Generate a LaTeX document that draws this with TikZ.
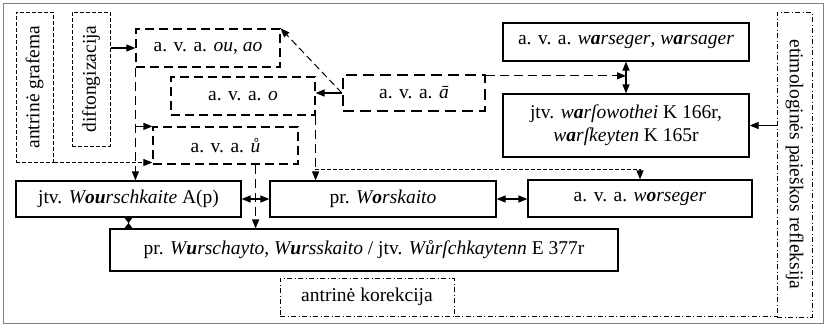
\documentclass[tikz,border=0pt]{standalone}
\usepackage{fontspec}
\setmainfont{Liberation Serif}
\usepackage{graphicx}
\usetikzlibrary{arrows.meta}
\tikzset{
  box/.style={draw, line width=1.2pt, inner sep=0pt, align=center, font=\fontsize{19.5}{23}\selectfont},
  ldash/.style={line width=1.2pt, dash pattern=on 9pt off 5pt},
  tdash/.style={line width=2.3pt, dash pattern=on 11pt off 6pt},
  sdash/.style={line width=1pt, dash pattern=on 4pt off 2pt},
  ddash/.style={line width=1pt, dash pattern=on 5pt off 2.5pt on 1pt off 2.5pt},
  arr/.style={-{Triangle[length=9pt,width=7pt]}},
  darr/.style={{Triangle[length=9pt,width=7pt]}-{Triangle[length=9pt,width=7pt]}},
  sarr/.style={{Triangle[reversed,length=5.5pt,width=8pt]}-{Triangle[reversed,length=5.5pt,width=8pt]}},
  conn/.style={line width=1.2pt},
}
\begin{document}
\begin{tikzpicture}[x=1pt,y=-1pt]
\useasboundingbox (0,0) rectangle (826,327);
\draw[gray, line width=1pt] (3,3) rectangle (823,323);

\node[box, sdash, minimum width=37pt, minimum height=150pt] (graf) at (34.5,87) {\rotatebox{90}{antrinė grafema}};
\node[box, sdash, minimum width=38pt, minimum height=134pt] (dift) at (91,79) {\rotatebox{90}{diftongizacija}};
\node[box, ldash, minimum width=144pt, minimum height=38pt] (ou) at (208,48) {a. v. a. \textit{ou}, \textit{ao}};
\node[box, ldash, minimum width=144pt, minimum height=38pt] (o) at (243,96) {a. v. a. \textit{o}};
\node[box, ldash, minimum width=145pt, minimum height=37pt] (u) at (225.5,145.5) {a. v. a. \textit{ů}};
\node[box, tdash, minimum width=142pt, minimum height=36pt] (abar) at (414,93) {a. v. a. \textit{ā}};
\node[box, minimum width=246pt, minimum height=38pt] (ws) at (626,42) {a. v. a. \textit{w\textbf{a}rseger}, \textit{w\textbf{a}rsager}};
\node[box, minimum width=246pt, minimum height=63pt] (wf) at (626,125.5) {jtv. \textit{w\textbf{a}rſowothei} K 166r,\\ \textit{w\textbf{a}rſkeyten} K 165r};
\node[box, ddash, minimum width=35pt, minimum height=305pt] (etim) at (794.5,164.5) {\rotatebox{-90}{etimologinės paieškos refleksija}};
\node[box, minimum width=225pt, minimum height=36pt] (wou) at (128.5,199) {jtv. \textit{W\textbf{ou}rschkaite} A(p)};
\node[box, minimum width=226pt, minimum height=36pt] (wors) at (383,199) {pr. \textit{W\textbf{o}rskaito}};
\node[box, minimum width=224pt, minimum height=37pt] (wsg) at (640,198.5) {a. v. a. \textit{w\textbf{o}rseger}};
\node[box, minimum width=508pt, minimum height=42pt] (wurs) at (364,250) {pr. \textit{W\textbf{u}rschayto}, \textit{W\textbf{u}rsskaito} / jtv. \textit{Wůrſchkaytenn} E 377r};
\node[box, ddash, minimum width=174pt, minimum height=38pt] (kor) at (367,297) {antrinė korekcija};

% connectors
\draw[conn, arr] (dift.east |- ou.west) -- (ou.west);
\draw[ldash, arr] (ou.south west) -- (ou.south west |- wou.north);
\draw[ldash, arr] (ou.south west |- u.north west) -- (u.north west);
\draw[sdash, arr] (graf.south east) -- (u.west |- graf.south east);
\draw[conn, arr] (abar.west) -- (o.east |- abar.west);
\draw[line width=1pt, dash pattern=on 7pt off 4pt, arr] (abar.west) -- (ou.north east);
\draw[conn, darr] (ws.south) -- (wf.north);
\coordinate (a1) at ([yshift=-2pt]abar.north east);
\draw[ldash, arr] (a1) -- (ws.south |- a1);
\draw[conn, arr] (etim.west |- wf.east) -- (wf.east);
\draw[ldash, arr] (o.south east) -- (o.south east |- wors.north);
\coordinate (k1) at (315,169);
\draw[sdash, arr] (k1) -| (wsg.north);
\coordinate (l1) at ([xshift=-43pt]u.south east);
\draw[ldash, arr] (l1) -- (l1 |- wurs.north);
\draw[conn, darr] (wou.east) -- (wors.west);
\draw[conn, darr] (wors.east) -- (wsg.west |- wors.east);
\draw[conn, sarr] (wou.south) -- (wou.south |- wurs.north);
\draw[ddash] (kor.south east) -- (etim.west |- kor.south east);
\end{tikzpicture}
\end{document}
